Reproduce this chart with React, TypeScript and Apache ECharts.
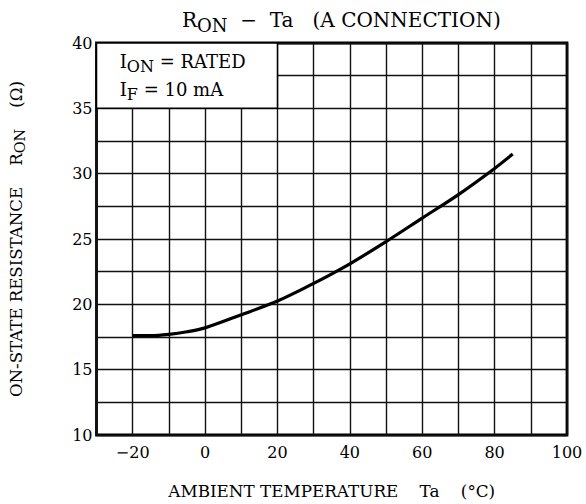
import React, { useEffect, useRef } from 'react';
import * as echarts from 'echarts';

const tempC = [-20, -15, -10, -5, 0, 10, 20, 30, 40, 50, 60, 70, 80, 85];
const ronOhm = [17.6, 17.6, 17.7, 17.9, 18.2, 19.2, 20.25, 21.6, 23.1, 24.8, 26.6, 28.4, 30.4, 31.5];
const xLabelValues = [-20, 0, 20, 40, 60, 80, 100];
const yLabelValues = [10, 15, 20, 25, 30, 35, 40];
const noteBoxFrom = [-30, 35];
const noteBoxTo = [20, 40];

const FONT = '"DejaVu Serif", serif';
const INK = '#000';

export default function App() {
  const ref = useRef<HTMLDivElement>(null);
  useEffect(() => {
    if (!ref.current) return;
    const chart = echarts.init(ref.current, undefined, { renderer: 'svg' });
    const sub = (size: number, drop = 12) => ({
      fontFamily: FONT, fontSize: size, color: INK, lineHeight: size + drop, verticalAlign: 'middle',
    });
    const main = (size: number) => ({
      fontFamily: FONT, fontSize: size, color: INK, lineHeight: size + 2, verticalAlign: 'top',
    });
    chart.setOption({
      animation: false,
      backgroundColor: '#fff',
      title: {
        text: '{m|R}{s|ON}{m|  −  Ta   (A CONNECTION)}',
        left: 177,
        top: 5,
        textStyle: {
          fontFamily: FONT,
          fontWeight: 'normal',
          rich: { m: main(20), s: sub(18, 12) },
        },
      },
      grid: {
        left: 95, right: 19, top: 43, bottom: 67,
        show: true, borderColor: INK, borderWidth: 2.8, backgroundColor: '#fff',
      },
      xAxis: {
        type: 'value',
        min: -30, max: 100, interval: 10,
        name: 'AMBIENT TEMPERATURE    Ta    (°C)',
        nameLocation: 'middle',
        nameGap: 47,
        nameTextStyle: { fontFamily: FONT, fontSize: 16.8, color: INK },
        axisLine: { show: false },
        axisTick: { show: false },
        axisLabel: {
          margin: 9,
          fontFamily: FONT, fontSize: 16, color: INK,
          formatter: (v: number) => (xLabelValues.includes(v) ? (v < 0 ? '−' + Math.abs(v) : String(v)) : ''),
        },
        splitLine: { show: true, lineStyle: { color: '#111', width: 1.4 } },
      },
      yAxis: {
        type: 'value',
        min: 10, max: 40, interval: 2.5,
        name: '{m|ON-STATE RESISTANCE    R}{s|ON}{m|    (Ω)}',
        nameLocation: 'middle',
        nameGap: 64,
        nameTextStyle: {
          fontFamily: FONT, color: INK,
          rich: { m: main(16.6), s: sub(14.5, 10) },
        },
        axisLine: { show: false },
        axisTick: { show: false },
        axisLabel: {
          margin: 4,
          fontFamily: FONT, fontSize: 16, color: INK,
          formatter: (v: number) => (yLabelValues.includes(v) ? String(v) : ''),
        },
        splitLine: { show: true, lineStyle: { color: '#111', width: 1.4 } },
      },
      series: [
        {
          type: 'line',
          data: tempC.map((t, i) => [t, ronOhm[i]]),
          smooth: 0.3,
          showSymbol: false,
          lineStyle: { color: INK, width: 3.2 },
          markArea: {
            silent: true,
            itemStyle: { color: '#fff', borderColor: INK, borderWidth: 1.5, opacity: 1 },
            label: {
              show: true,
              position: 'insideTopLeft',
              distance: 8,
              offset: [16, 2],
              formatter: '{m|I}{s|ON}{m| = RATED}\n{m|I}{s|F}{m| = 10 mA}',
              rich: { m: main(18), s: sub(16, 12) },
            },
            data: [[{ coord: noteBoxFrom }, { coord: noteBoxTo }]],
          },
        },
      ],
    });
    return () => chart.dispose();
  }, []);
  return <div ref={ref} style={{ position: 'fixed', left: 0, top: 0, width: 586, height: 504 }} />;
}
